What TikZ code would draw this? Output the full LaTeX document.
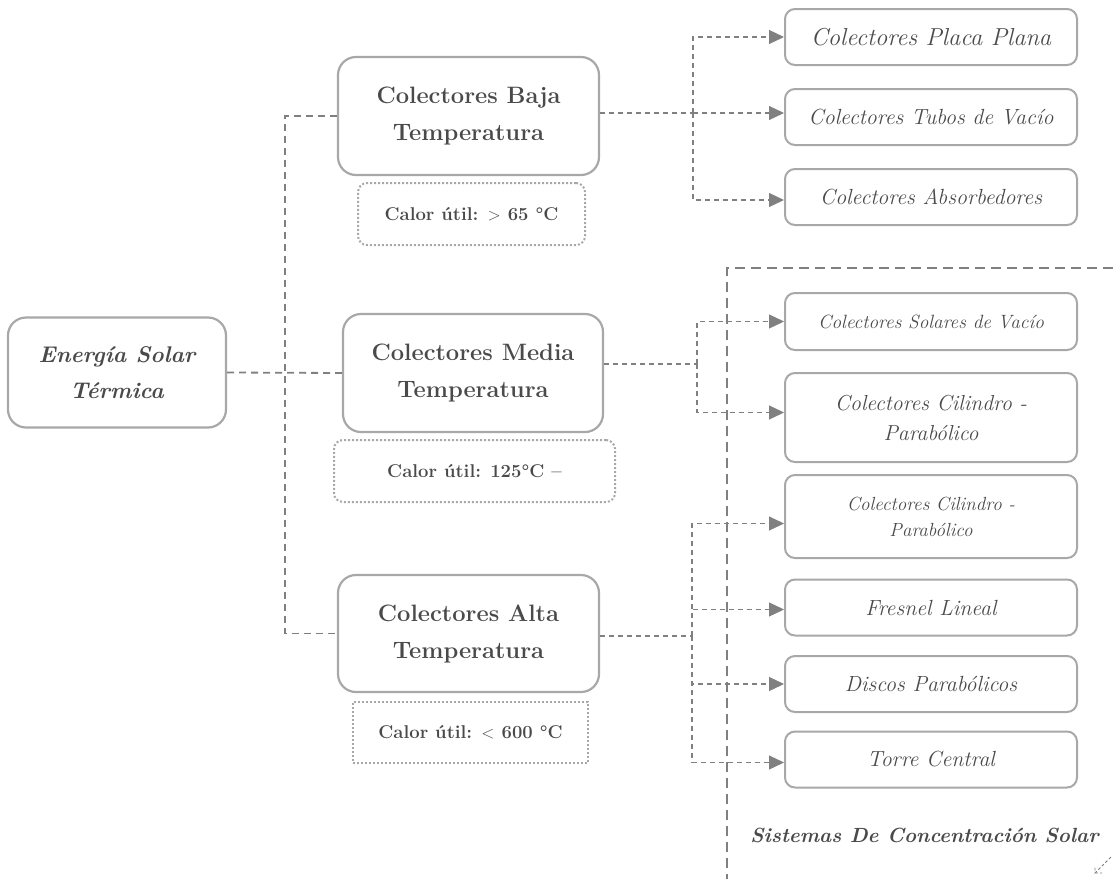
\documentclass[tikz,border=0pt]{standalone}
\usepackage{tikz}
\usetikzlibrary{arrows.meta, positioning, calc}

\definecolor{boxgray}{HTML}{A8A8A8}
\definecolor{linkgray}{HTML}{808080}
\definecolor{txtgray}{HTML}{4A4A4A}

\begin{document}
\begin{tikzpicture}[
    x=1pt, y=-1pt,
    every node/.style={align=center, text=txtgray, inner sep=0pt},
    mainbox/.style={rectangle, draw=boxgray, line width=2.2pt, rounded corners=18pt, font=\fontsize{23.7}{37}\selectfont\bfseries, minimum width=261pt, minimum height=118pt},
    heatbox/.style={rectangle, draw=boxgray, line width=2pt, dotted, rounded corners=9pt, font=\fontsize{18.5}{22}\selectfont\bfseries, minimum height=62pt},
    leafbox/.style={rectangle, draw=boxgray, line width=2pt, rounded corners=10pt, font=\fontsize{21.9}{30}\selectfont\itshape, minimum width=292pt, minimum height=56pt},
    mainlink/.style={draw=linkgray, line width=1.8pt, dash pattern=on 7pt off 5pt},
    link/.style={draw=linkgray, line width=1.2pt, dash pattern=on 5pt off 4pt},
    arrow/.style={link, -{Triangle[length=15pt, width=14pt]}},
    region/.style={draw=linkgray, line width=1.3pt, dash pattern=on 10pt off 6pt}
]
    \useasboundingbox (0,0) rectangle (1113,879);

    % left part
    \node[mainbox, minimum width=218pt, minimum height=110pt, font=\fontsize{22.7}{36}\selectfont\bfseries\itshape] (solar) at (117,372.5) {Energía Solar\\Térmica};

    \node[mainbox] (baja) at (468.5,116) {Colectores Baja\\Temperatura};
    \node[mainbox, minimum width=260pt] (media) at (473,373) {Colectores Media\\Temperatura};
    \node[mainbox, minimum height=117pt] (alta) at (468.5,633.5) {Colectores Alta\\Temperatura};

    \node[heatbox, minimum width=227pt] (calorB) at (471.5,214) {Calor útil: $>$ 65 °C};
    \node[heatbox, minimum width=281pt] (calorM) at (474.5,471) {Calor útil: 125°C --};
    \node[heatbox, minimum width=235pt, minimum height=61pt, sharp corners] (calorA) at (470.5,732.5) {Calor útil: $<$ 600 °C};

    \coordinate (tk) at (285,373);
    \draw[mainlink] (baja.west) -| (tk) |- (alta.west);
    \draw[mainlink] (solar.east) -- (media.west);

    % concentration region
    \coordinate (rTop) at (1113,268);
    \coordinate (rCorner) at (727,268);
    \coordinate (rBot) at (727,879);
    \draw[region] (rTop) -- (rCorner) -- (rBot);
    \node[font=\fontsize{20.5}{26}\selectfont\bfseries\itshape] (sistemas) at (924.5,835) {Sistemas De Concentración Solar};
    % small corner mark
    \coordinate (mkA) at (1111,857);
    \coordinate (mkB) at (1095,873);
    \draw[link, line width=0.8pt, dash pattern=on 3pt off 2pt] (mkA) -- (mkB) -- ++(0,-7) (mkB) -- ++(7,0);

    % leaves
    \node[leafbox, font=\fontsize{24.5}{30}\selectfont\itshape] (placa) at (931,37) {Colectores Placa Plana};
    \node[leafbox] (tubos) at (931,117) {Colectores Tubos de Vacío};
    \node[leafbox] (absor) at (931,197) {Colectores Absorbedores};
    \node[leafbox, font=\fontsize{19.2}{26}\selectfont\itshape, minimum height=57pt] (solvac) at (931,321.5) {Colectores Solares de Vacío};
    \node[leafbox, font=\fontsize{21.7}{30}\selectfont\itshape, minimum height=89pt] (cila) at (931,417.5) {Colectores Cilindro -\\Parabólico};
    \node[leafbox, font=\fontsize{19}{26}\selectfont\itshape, minimum height=83pt] (cilb) at (931,516.5) {Colectores Cilindro -\\Parabólico};
    \node[leafbox] (fresnel) at (931,607.5) {Fresnel Lineal};
    \node[leafbox] (discos) at (931,684) {Discos Parabólicos};
    \node[leafbox] (torre) at (931,759.5) {Torre Central};

    % connectors
    \coordinate (jB) at (693,113);
    \coordinate (jM) at (697,364);
    \coordinate (jA) at (692,636);
    \draw[link] (baja.east |- jB) -- (jB);
    \draw[arrow] (jB) |- (placa.west);
    \draw[arrow] (jB) -- (tubos.west |- jB);
    \draw[arrow] (jB) |- ([yshift=-3pt]absor.west);
    \draw[link] (media.east |- jM) -- (jM);
    \draw[arrow] (jM) |- (solvac.west);
    \draw[arrow] (jM) |- ([yshift=5pt]cila.west);
    \draw[link] (alta.east |- jA) -- (jA);
    \draw[arrow] (jA) |- ([yshift=-7pt]cilb.west);
    \draw[arrow] (jA) |- ([yshift=-2pt]fresnel.west);
    \draw[arrow] (jA) |- (discos.west);
    \draw[arrow] (jA) |- ([yshift=-3pt]torre.west);
\end{tikzpicture}
\end{document}
